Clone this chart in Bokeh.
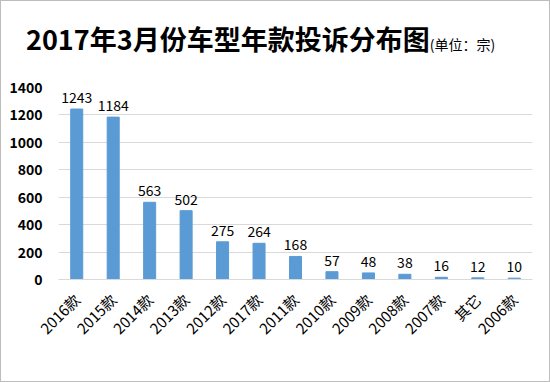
import math
from bokeh.plotting import figure
from bokeh.models import ColumnDataSource, FixedTicker, Range1d, Div
from bokeh.layouts import column
from bokeh.core.properties import value
from bokeh.embed import file_html
from bokeh.resources import INLINE

title_text = "2017年3月份车型年款投诉分布图"
unit_text = "(单位：宗)"
categories = ["2016款", "2015款", "2014款", "2013款", "2012款", "2017款", "2011款",
              "2010款", "2009款", "2008款", "2007款", "其它", "2006款"]
counts = [1243, 1184, 563, 502, 275, 264, 168, 57, 48, 38, 16, 12, 10]
y_ticks = [0, 200, 400, 600, 800, 1000, 1200, 1400]

FONT = "Noto Sans CJK SC"

src = ColumnDataSource(dict(cat=categories, val=counts, lbl=[str(v) for v in counts]))

header = Div(
    text=(f'<div style="padding:23px 0 0 25px;margin:0;white-space:nowrap;'
          f'font-family:\'{FONT}\';line-height:30px;color:#000">'
          f'<span style="font-size:27px;font-weight:bold">{title_text}</span>'
          f'<span style="font-size:14px">{unit_text}</span></div>'),
    width=548, height=59, margin=0)

p = figure(x_range=categories, y_range=Range1d(0, 1400), width=548, height=321,
           output_backend="svg", toolbar_location=None, margin=0,
           min_border_left=57, min_border_right=17, min_border_top=27, min_border_bottom=102)
p.outline_line_color = None
p.background_fill_color = "white"
p.border_fill_color = "white"

p.vbar(x="cat", top="val", width=0.33, source=src, color="#5B9BD5")
p.text(x="cat", y="val", text="lbl", source=src, text_align="center", text_baseline="bottom",
       y_offset=-6, text_font=value(FONT), text_font_size="14px", text_color="#000000")

p.xgrid.grid_line_color = None
p.ygrid.grid_line_color = "#D9D9D9"
p.ygrid.ticker = FixedTicker(ticks=y_ticks)

p.yaxis.ticker = FixedTicker(ticks=y_ticks)
p.yaxis.axis_line_color = None
p.yaxis.major_tick_line_color = None
p.yaxis.minor_tick_line_color = None
p.yaxis.major_label_text_font = FONT
p.yaxis.major_label_text_font_size = "14px"
p.yaxis.major_label_text_font_style = "bold"
p.yaxis.major_label_text_color = "#000000"
p.yaxis.major_label_standoff = 10

p.xaxis.axis_line_color = "#D9D9D9"
p.xaxis.major_tick_line_color = None
p.xaxis.minor_tick_line_color = None
p.xaxis.major_label_orientation = math.pi / 4
p.xaxis.major_label_text_font = FONT
p.xaxis.major_label_text_font_size = "15px"
p.xaxis.major_label_text_color = "#000000"
p.xaxis.major_label_standoff = 11

layout = column(header, p, spacing=0, margin=0,
                styles={"border": "1px solid #BDBDBD"})
open("out.html", "w").write(file_html(layout, INLINE))
